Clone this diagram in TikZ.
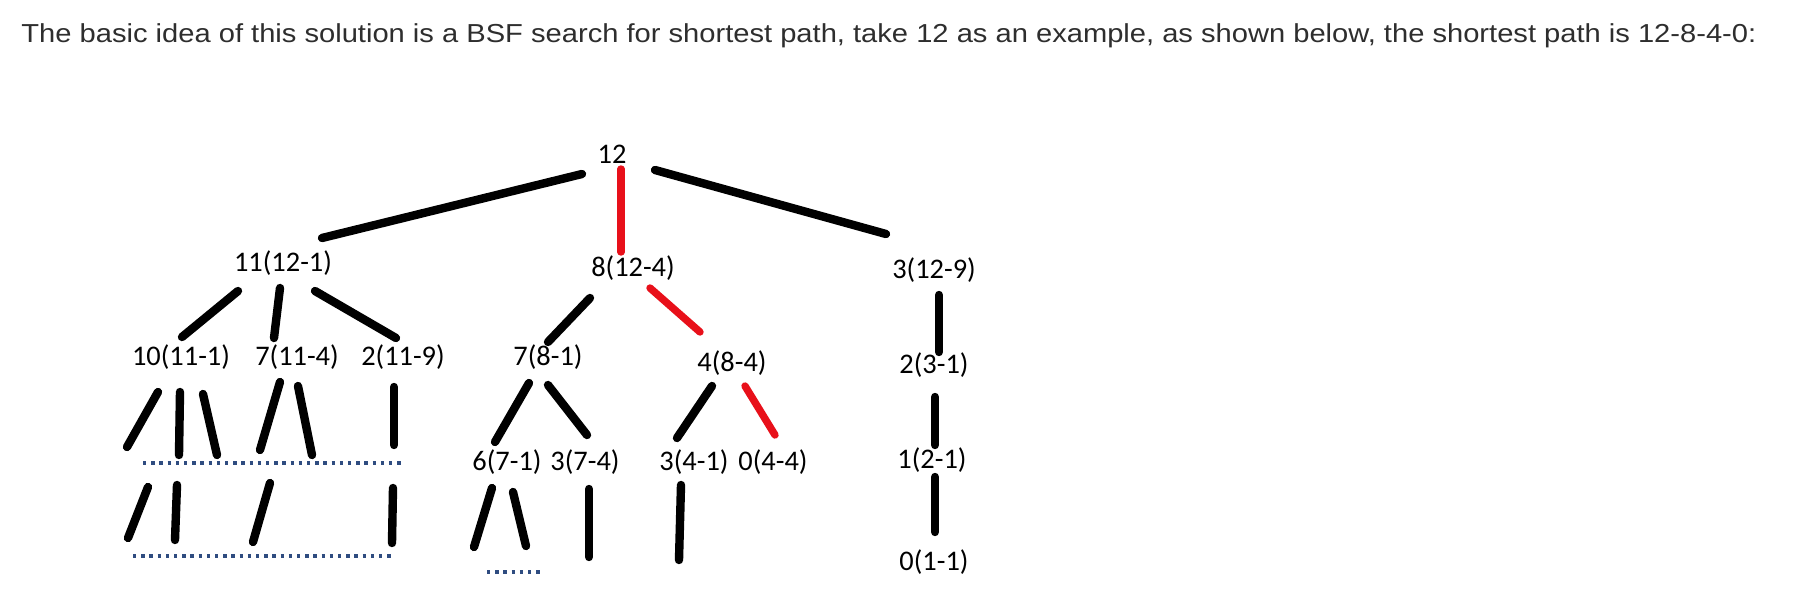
\documentclass[tikz,border=0pt]{standalone}
\usepackage{fontspec}
\setmainfont{Carlito}
\newfontfamily\hdrfont{Liberation Sans}
\usepackage{graphicx}
\definecolor{hdrgray}{HTML}{2E2E2E}
\definecolor{pathred}{HTML}{E8101A}
\definecolor{dotblue}{HTML}{2F4C80}
\newcommand\seg[4][blk]{\coordinate (#2a) at (#3); \coordinate (#2b) at (#4); \draw[#1] (#2a) -- (#2b);}
\begin{document}
\begin{tikzpicture}[x=0.5pt,y=-0.5pt,
  lbl/.style={inner sep=0pt, anchor=center, font=\fontsize{14.2}{16}\selectfont, text=black},
  blk/.style={line width=4.2pt, line cap=round, black},
  red/.style={line width=3.7pt, line cap=round, pathred},
  dotrow/.style={line width=1.8pt, dotblue, dash pattern=on 1.7pt off 2.4pt}]
\useasboundingbox (0,0) rectangle (1796,616);
\fill[white] (0,0) rectangle (1796,616);
% header
\node[anchor=base west, inner sep=0pt, text=hdrgray] (hdr) at (21,42.5)
  {\resizebox{867.5pt}{\height}{\hdrfont\fontsize{13}{15}\selectfont The basic idea of this solution is a BSF search for shortest path, take 12 as an example, as shown below, the shortest path is 12-8-4-0:}};
% nodes
\node[lbl] (n12) at (612,154) {12};
\node[lbl] (n11) at (283,263) {11(12-1)};
\node[lbl] (n8) at (633,268) {8(12-4)};
\node[lbl] (n3) at (934,270) {3(12-9)};
\node[lbl] (n10) at (181,357) {10(11-1)};
\node[lbl] (n7a) at (297,357) {7(11-4)};
\node[lbl] (n2a) at (403,357) {2(11-9)};
\node[lbl] (n7b) at (548,357) {7(8-1)};
\node[lbl] (n4) at (732,363) {4(8-4)};
\node[lbl] (n2b) at (934,365) {2(3-1)};
\node[lbl] (n6) at (507,462) {6(7-1)};
\node[lbl] (n3a) at (585,462) {3(7-4)};
\node[lbl] (n3b) at (694,462) {3(4-1)};
\node[lbl] (n0a) at (773,462) {0(4-4)};
\node[lbl] (n1) at (932,460) {1(2-1)};
\node[lbl] (n0b) at (934,562) {0(1-1)};
% edges
\seg{e1}{582,174}{322,238}
\seg[red]{e2}{621,169}{621,252}
\seg{e3}{655,170}{886,234}
\seg{e4}{238,291}{182,337}
\seg{e5}{280,288}{274,338}
\seg{e6}{315,291}{396,338}
\seg{e7}{590,298}{548,342}
\seg[red]{e8}{650,288}{700,332}
\seg{e9}{939,295}{939,352}
\seg{e10}{158,392}{127,447}
\seg{e11}{180,392}{179,455}
\seg{e12}{203,394}{217,455}
\seg{e13}{280,382}{260,450}
\seg{e14}{298,386}{312,455}
\seg{e15}{394,387}{394,445}
\seg{e16}{529,383}{495,442}
\seg{e17}{548,385}{587,435}
\seg{e18}{712,386}{677,438}
\seg[red]{e19}{745,386}{775,435}
\seg{e20}{935,397}{935,445}
\seg{e21}{935,477}{935,532}
\seg{e22}{148,487}{128,538}
\seg{e23}{177,485}{175,540}
\seg{e24}{270,483}{253,542}
\seg{e25}{393,488}{392,543}
\seg{e26}{492,488}{474,547}
\seg{e27}{513,492}{526,546}
\seg{e28}{589,489}{589,557}
\seg{e29}{681,485}{679,560}
% dotted rows
\seg[dotrow]{d1}{143,463}{405,463}
\seg[dotrow]{d2}{133,556}{395,556}
\seg[dotrow]{d3}{487,572}{542,572}
\end{tikzpicture}
\end{document}
